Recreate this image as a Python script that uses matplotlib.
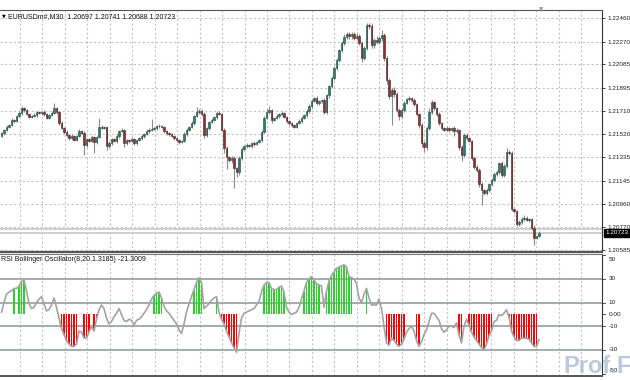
import matplotlib
matplotlib.use("Agg")
import matplotlib.pyplot as plt
import matplotlib.transforms as mtransforms
import numpy as np

plt.rcParams['font.family'] = ['Liberation Sans', 'DejaVu Sans']

# ---------------- data ----------------
symbol_header = "EURUSDm#,M30  1.20697 1.20741 1.20688 1.20723"
indicator_title = "RSI Bollinger Oscillator(8,20,1.3185) -21.3009"

price_base = 1.20000          # prices below are in points (1e-5) above this base
first_open = 1510
closes = [
    1530, 1555, 1579, 1595, 1635, 1627, 1668, 1692, 1732, 1716, 1684, 1660, 1668, 1676, 1700, 1692, 1700, 1684, 1652, 1676,
    1692, 1732, 1700, 1611, 1571, 1539, 1514, 1490, 1506, 1474, 1506, 1547, 1530, 1433, 1482, 1466, 1498, 1458, 1498, 1579,
    1571, 1579, 1425, 1449, 1482, 1466, 1506, 1547, 1555, 1449, 1474, 1466, 1482, 1449, 1474, 1490, 1506, 1522, 1547, 1555,
    1563, 1571, 1587, 1587, 1579, 1547, 1530, 1522, 1506, 1490, 1474, 1458, 1466, 1522, 1555, 1579, 1611, 1668, 1700, 1708,
    1684, 1514, 1571, 1619, 1636, 1660, 1692, 1684, 1555, 1409, 1336, 1313, 1329, 1248, 1215, 1329, 1401, 1425, 1433, 1425,
    1449, 1441, 1458, 1474, 1539, 1651, 1700, 1716, 1636, 1652, 1668, 1684, 1692, 1660, 1627, 1611, 1595, 1579, 1611, 1627,
    1652, 1676, 1708, 1749, 1789, 1813, 1773, 1789, 1797, 1700, 1837, 1910, 1975, 2056, 2120, 2201, 2258, 2306, 2330, 2314,
    2330, 2298, 2314, 2258, 2137, 2217, 2403, 2395, 2241, 2282, 2266, 2298, 2322, 2137, 1959, 1829, 1878, 1846, 1717, 1668,
    1717, 1773, 1805, 1813, 1797, 1765, 1684, 1595, 1450, 1417, 1571, 1700, 1781, 1733, 1684, 1611, 1571, 1555, 1571, 1555,
    1571, 1547, 1555, 1417, 1353, 1514, 1490, 1466, 1329, 1256, 1232, 1118, 1070, 1046, 1070, 1118, 1151, 1199, 1215, 1288,
    1191, 1264, 1377, 1369, 913, 900, 795, 811, 835, 844, 828, 835, 763, 682, 697, 723,
]
upper_wick = [
    12, 10, 15, 8, 14, 10, 12, 16, 20, 10, 8, 12, 10, 14, 10, 12, 8, 15, 10, 12,
    14, 40, 12, 10, 15, 8, 12, 10, 14, 8, 12, 15, 10, 20, 12, 10, 15, 8, 12, 70,
    15, 10, 12, 20, 10, 12, 14, 10, 18, 8, 12, 10, 15, 10, 12, 8, 14, 10, 12, 15,
    80, 12, 10, 15, 10, 12, 8, 10, 12, 10, 8, 12, 10, 15, 12, 10, 14, 12, 40, 20,
    15, 20, 12, 10, 15, 12, 20, 14, 10, 12, 15, 10, 12, 14, 10, 12, 15, 10, 14, 10,
    12, 15, 10, 12, 15, 20, 25, 30, 12, 10, 15, 12, 14, 10, 12, 10, 8, 12, 10, 14,
    12, 10, 15, 14, 20, 12, 15, 10, 12, 15, 10, 12, 20, 15, 18, 12, 15, 25, 20, 15,
    20, 15, 25, 18, 20, 15, 20, 20, 25, 15, 30, 20, 40, 15, 12, 15, 20, 25, 15, 12,
    15, 20, 12, 15, 10, 14, 12, 10, 15, 12, 20, 30, 15, 12, 10, 15, 12, 10, 14, 12,
    10, 14, 12, 10, 15, 20, 15, 12, 10, 14, 12, 15, 20, 12, 15, 12, 14, 20, 15, 12,
    15, 20, 30, 20, 15, 12, 10, 15, 20, 25, 15, 12, 10, 20, 12, 18,
]
lower_wick = [
    10, 14, 8, 12, 10, 15, 10, 8, 12, 14, 10, 12, 8, 10, 14, 10, 12, 15, 10, 8,
    12, 10, 15, 12, 10, 20, 14, 12, 15, 10, 12, 10, 8, 80, 14, 12, 10, 90, 15, 10,
    12, 10, 30, 14, 12, 10, 15, 12, 10, 30, 12, 15, 10, 14, 12, 10, 15, 12, 10, 14,
    12, 10, 14, 12, 10, 15, 12, 14, 10, 12, 15, 14, 10, 12, 15, 10, 12, 14, 10, 12,
    14, 20, 12, 15, 10, 12, 14, 10, 12, 40, 100, 20, 25, 160, 40, 20, 15, 12, 14, 10,
    12, 14, 10, 12, 15, 12, 10, 14, 25, 12, 10, 14, 12, 10, 15, 12, 14, 10, 12, 10,
    12, 10, 14, 12, 15, 10, 20, 14, 12, 15, 14, 20, 15, 20, 15, 18, 15, 20, 15, 25,
    20, 15, 18, 20, 35, 20, 15, 20, 25, 20, 15, 18, 20, 25, 30, 20, 234, 25, 20, 30,
    20, 15, 12, 14, 12, 15, 20, 25, 30, 40, 20, 15, 12, 14, 15, 12, 14, 12, 10, 15,
    12, 40, 14, 25, 50, 15, 14, 12, 15, 20, 15, 25, 120, 20, 15, 14, 12, 15, 12, 14,
    15, 12, 14, 20, 15, 12, 20, 14, 12, 15, 12, 14, 20, 60, 12, 9,
]
osc = [
    2, 10, 17, 19, 20, 22, 22, 24, 28, 29, 20, 9, 5, 6, 10, 13, 15, 9, 3, 4,
    8, 14, 6, -3, -12, -17, -22, -25, -27, -27, -25, -14, -15, -20, -20, -15, -10, -14, -4, 4,
    8, 5, -3, -8, -6, -2, 1, 5, 0, -5, -6, -4, -5, -9, -5, -4, -2, 1, 4, 8,
    13, 16, 18, 19, 14, 7, 3, 1, -2, -5, -8, -13, -16, -8, 2, 9, 15, 21, 27, 31,
    27, 5, 7, 9, 12, 14, 15, 2, -4, -8, -14, -19, -24, -28, -32, -16, -3, 1, 2, 3,
    4, 5, 8, 11, 19, 25, 27, 27, 22, 21, 21, 23, 24, 19, 6, 2, 0, 1, 2, 6,
    13, 20, 27, 30, 32, 29, 26, 25, 24, 6, 20, 28, 33, 36, 39, 40, 41, 42, 40, 32,
    31, 30, 26, 14, 10, 17, 22, 14, 8, 8, 8, 13, 5, -10, -24, -26, -20, -22, -25, -27,
    -25, -21, -15, -12, -10, -14, -22, -27, -23, -17, -13, -6, 1, 1, -2, -5, -12, -15, -13, -10,
    -10, -11, -7, -17, -24, -10, -4, -9, -15, -19, -22, -25, -28, -30, -25, -18, -14, -6, -5, 0,
    -1, 1, 4, -2, -14, -19, -22, -22, -20, -20, -20, -21, -24, -27, -27, -21.3,
]
green_runs = [(5, 5), (7, 9), (61, 64), (77, 80), (86, 86), (105, 113), (121, 127), (130, 140), (146, 146)]
red_runs = [(24, 30), (33, 35), (37, 38), (88, 94), (154, 161), (166, 167), (183, 184), (187, 196), (203, 214)]

price_ticks = [1.20585, 1.20770, 1.20960, 1.21145, 1.21335, 1.21520, 1.21710, 1.21895, 1.22085, 1.22270, 1.22460]
price_labels = ["1.20585", "1.20770", "1.20960", "1.21145", "1.21335", "1.21520",
                "1.21710", "1.21895", "1.22085", "1.22270", "1.22460"]
osc_ticks = [50, 30, 10, 0, -10, -30, -50]
osc_labels = ["50", "30", "10", "0.00", "-10", "-30", "-50"]
osc_levels = [30, 10, -10, -30]
last_price = 1.20723
last_label = "1.20723"
ask_price = 1.20752

# ---------------- derived ----------------
n = len(closes)
idx = np.arange(n)
c = price_base + np.array(closes) / 1e5
o = np.concatenate([[price_base + first_open / 1e5], c[:-1]])
hi = np.maximum(o, c) + np.array(upper_wick) / 1e5
lo = np.minimum(o, c) - np.array(lower_wick) / 1e5

W, H = 630, 380
fig = plt.figure(figsize=(6.3, 3.8), dpi=100)
fig.patch.set_facecolor('white')
ax1 = fig.add_axes([0, 1 - 252 / H, 602 / W, 242 / H])
ax2 = fig.add_axes([0, 1 - 376 / H, 602 / W, 122 / H])

xlim = (-0.6, 240.2)
grid_x = np.arange(7.4, 240, 8.98)
grid_kw = dict(color='#c4c4c4', lw=0.8, linestyle=(0, (2.0, 2.0)), zorder=0)

# ---- main panel ----
ax1.set_xlim(*xlim)
ax1.set_ylim(1.205688, 1.225247)
for gx in grid_x:
    ax1.axvline(gx, **grid_kw)
for t in price_ticks:
    ax1.axhline(t, **grid_kw)

ax1.axhline(ask_price, color='#cfcfcf', lw=1.4, zorder=1)
ax1.axhline(last_price, color='#cfcfcf', lw=1.4, zorder=1)

up = c >= o
ax1.vlines(idx, lo, hi, color='#8a8a8a', lw=0.8, zorder=2)
body_h = np.maximum(np.abs(c - o), 0.000012)
ax1.bar(idx[up], body_h[up], bottom=np.minimum(o, c)[up], width=0.7,
        color='#2a7f6e', edgecolor='#1d4a42', linewidth=0.4, zorder=3)
ax1.bar(idx[~up], body_h[~up], bottom=np.minimum(o, c)[~up], width=0.7,
        color='#8f3131', edgecolor='#4a1d1d', linewidth=0.4, zorder=3)

ax1.yaxis.tick_right()
ax1.set_yticks(price_ticks)
ax1.set_yticklabels(price_labels)
ax1.set_xticks([])
ax1.tick_params(axis='y', labelsize=4.6, length=2.5, width=0.6, pad=1.2, colors='#222222')
ax1.spines['left'].set_visible(False)
ax1.spines['top'].set_color('#555555')
ax1.spines['right'].set_color('#333333')
ax1.spines['bottom'].set_color('#555555')
ax1.spines['bottom'].set_linewidth(1.6)

trans1 = mtransforms.blended_transform_factory(ax1.transAxes, ax1.transData)
ax1.text(1.006, last_price, last_label, transform=trans1, color='white', fontsize=4.6,
         va='center', ha='left', zorder=10, clip_on=False,
         bbox=dict(facecolor='black', edgecolor='black', pad=1.0))

ax1.text(2 / 602, 0.975, "\u25BC", transform=ax1.transAxes, fontsize=3.5,
         va='center', ha='left', family=['DejaVu Sans'])
ax1.text(8 / 602, 0.975, symbol_header, transform=ax1.transAxes, fontsize=5,
         va='center', ha='left', color='#111111')
ax1.text(541 / 602, 1.0, "\u25BC", transform=ax1.transAxes, fontsize=4,
         va='center', ha='center', color='#999999', family=['DejaVu Sans'], clip_on=False)

# ---- indicator panel ----
ax2.set_xlim(*xlim)
ax2.set_ylim(-52.0, 51.1)
for gx in grid_x:
    ax2.axvline(gx, **grid_kw)
for lv in osc_levels:
    ax2.axhline(lv, color='#879797', lw=1.1, zorder=1)

osc_arr = np.array(osc, dtype=float)
for a, b in green_runs:
    r = np.arange(a, b + 1)
    ax2.bar(r, osc_arr[r], width=0.5, color='#2ad12a', zorder=2)
for a, b in red_runs:
    r = np.arange(a, b + 1)
    ax2.bar(r, osc_arr[r], width=0.5, color='#ff0000', zorder=2)
ax2.plot(idx, osc_arr, color='#a3a3a3', lw=1.2, zorder=3)

ax2.set_xticks([])
ax2.set_yticks([])
ax2.spines['left'].set_visible(False)
ax2.spines['top'].set_color('#777777')
ax2.spines['right'].set_color('#333333')
ax2.spines['bottom'].set_color('#555555')
ax2.spines['bottom'].set_linewidth(1.4)

# watermark (behind labels)
fig.text(0.895, 0.004, "Prof.F", fontsize=17, fontweight='bold', color='#9fb2cf',
         alpha=0.7, ha='left', va='bottom', zorder=0)

trans2 = mtransforms.blended_transform_factory(ax2.transAxes, ax2.transData)
label_nudge = {50: -3.5, -50: 2.5}
for t, lab in zip(osc_ticks, osc_labels):
    ax2.plot([1.0, 1.005], [t, t], transform=trans2, color='#333333', lw=0.6, clip_on=False)
    ax2.text(1.011, t + label_nudge.get(t, 0), lab, transform=trans2, fontsize=4.6,
             va='center', ha='left', color='#222222', clip_on=False, zorder=5)

ax2.text(1 / 602, 0.955, indicator_title, transform=ax2.transAxes, fontsize=5,
         va='center', ha='left', color='#111111')

fig.savefig("out.png", dpi=100, facecolor='white')
